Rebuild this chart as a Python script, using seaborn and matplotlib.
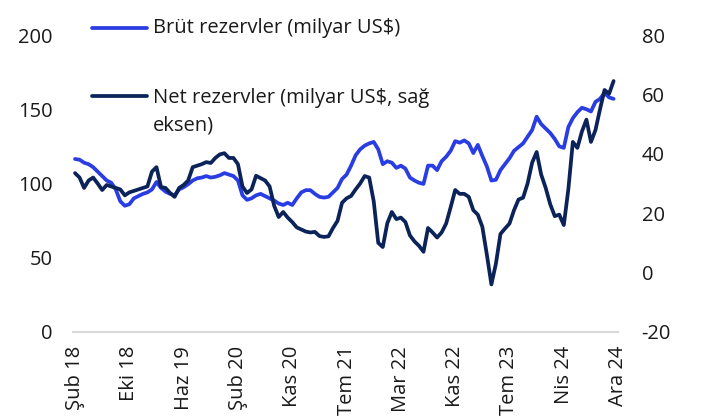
import matplotlib
matplotlib.use('Agg')
import matplotlib.pyplot as plt
import numpy as np
import pandas as pd
import seaborn as sns
from matplotlib.lines import Line2D

# tick labels (one every 12 samples)
tick_labels = ['Şub 18', 'Eki 18', 'Haz 19', 'Şub 20', 'Kas 20', 'Tem 21',
               'Mar 22', 'Kas 22', 'Tem 23', 'Nis 24', 'Ara 24']
samples_per_tick = 12

# gross reserves, billion US$ (left axis)
brut = [116.5, 116, 114, 113, 111, 108, 105, 102, 100.5, 96, 88, 85,
        86, 90, 91.5, 93, 94, 96, 101, 97, 94.5, 93, 92, 96,
        97.5, 99.5, 102, 103.5, 104, 105, 104, 104.5, 105.5, 107, 106, 105,
        102, 92, 89, 90, 92, 93, 91.5, 90, 88.5, 86.5, 85.5, 87,
        85.5, 90, 94, 95.5, 95.5, 93, 91, 90.5, 91, 94, 97, 103,
        106, 112, 119, 123, 125.5, 127, 128, 123, 113, 115, 114, 110.5,
        112, 110, 104, 102, 100.5, 99.7, 112, 112, 109, 115, 118, 122,
        128.5, 127.5, 129, 127, 120.5, 126, 118.5, 111.5, 102, 102.5, 109, 113,
        117, 122, 124.5, 127, 131.5, 136, 145, 140, 137, 134, 130, 125,
        124, 138, 144, 148, 151, 150, 148.5, 155, 157, 161, 158, 157]

# net reserves, billion US$ (right axis)
net = [33.5, 32, 28.5, 31, 32, 30, 27.8, 29.5, 29, 28.5, 28, 26,
       27, 27.5, 28, 28.5, 29, 34, 35.5, 28.8, 28.5, 26.8, 25.5, 28.5,
       29.5, 31, 35.5, 36, 36.5, 37.2, 36.9, 38.6, 39.8, 40.2, 38.6, 38.6,
       36.5, 29, 26.8, 28, 32.6, 31.8, 31, 29, 22.5, 18.7, 20.4, 18.5,
       17, 15.2, 14.5, 13.8, 13.5, 13.7, 12.3, 12, 12.2, 15, 17.4, 23.5,
       25, 25.8, 28, 30, 32.5, 32, 24, 10, 8.6, 16.6, 20.4, 18,
       18.5, 17, 12.5, 10.5, 9, 7, 15, 13.5, 11.8, 13.5, 16.5, 22,
       27.8, 26.5, 26.5, 25.5, 21, 19.5, 15.4, 6, -4, 3, 13, 14.8,
       16.5, 21, 24.6, 25.2, 30, 37, 40.6, 33, 28.5, 23, 19, 19.5,
       16, 28, 44, 42, 47.5, 51.5, 44, 48, 55, 61.5, 60.2, 64.5]

label_brut = 'Brüt rezervler (milyar US$)'
label_net = 'Net rezervler (milyar US$, sağ\neksen)'

c_brut = '#2a3de3'
c_net = '#0b2358'
txt = '#1a1a1a'
fs = 14.5

sns.set_style('white')
plt.rcParams['font.family'] = ['Open Sans', 'DejaVu Sans']
plt.rcParams['axes.unicode_minus'] = False

df = pd.DataFrame({'t': np.arange(len(brut)), 'brut': brut, 'net': net})

fig = plt.figure(figsize=(7.04, 4.17), dpi=100)
ax = fig.add_axes([0.104, 0.204, 0.774, 0.712])
ax2 = ax.twinx()

sns.lineplot(data=df, x='t', y='brut', ax=ax, color=c_brut, linewidth=2.7)
sns.lineplot(data=df, x='t', y='net', ax=ax2, color=c_net, linewidth=2.7)

ax.set_xlim(-0.4, 120)
ax.set_ylim(0, 200)
ax2.set_ylim(-20, 80)
ax.set_yticks([0, 50, 100, 150, 200])
ax2.set_yticks([-20, 0, 20, 40, 60, 80])
ax.set_xticks(np.arange(len(tick_labels)) * samples_per_tick)
ax.set_xticklabels(tick_labels, rotation=90)

for a in (ax, ax2):
    a.set_xlabel('')
    a.set_ylabel('')
    for s in ('top', 'left', 'right', 'bottom'):
        a.spines[s].set_visible(False)
    a.tick_params(length=0, labelsize=fs, colors=txt)
ax.spines['bottom'].set_visible(True)
ax.spines['bottom'].set_color('#d9d9d9')
ax.spines['bottom'].set_linewidth(1.5)
ax.tick_params(axis='y', pad=15)
ax.tick_params(axis='x', pad=10)
ax2.tick_params(axis='y', pad=17)

# legend drawn by hand to keep the handle on the first text line
for yy, col, lab, va in [(1.024, c_brut, label_brut, 'center'), (0.795, c_net, label_net, 'top')]:
    ax.add_line(Line2D([0.035, 0.136], [yy, yy], transform=ax.transAxes,
                       color=col, linewidth=2.7, clip_on=False))
    ty = yy if va == 'center' else yy + 0.025
    ax.text(0.147, ty, lab, transform=ax.transAxes, fontsize=fs, color=txt,
            va=va, ha='left', linespacing=1.5)

plt.savefig('out.png', dpi=100)
